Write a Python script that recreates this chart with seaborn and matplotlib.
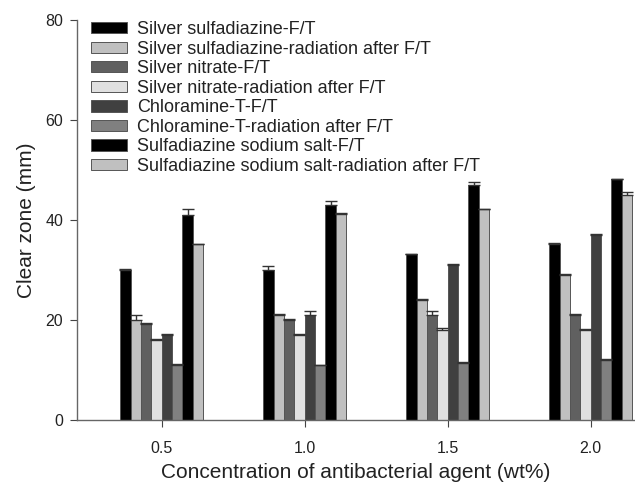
import matplotlib
matplotlib.use("Agg")
import matplotlib.pyplot as plt
import matplotlib.patches as mpatches
import numpy as np
import pandas as pd
import seaborn as sns

concentrations = [0.5, 1.0, 1.5, 2.0]
series = [
    "Silver sulfadiazine-F/T",
    "Silver sulfadiazine-radiation after F/T",
    "Silver nitrate-F/T",
    "Silver nitrate-radiation after F/T",
    "Chloramine-T-F/T",
    "Chloramine-T-radiation after F/T",
    "Sulfadiazine sodium salt-F/T",
    "Sulfadiazine sodium salt-radiation after F/T",
]
ss_ft = [30.0, 30.0, 33.1, 35.2]
ss_rad = [20.0, 21.0, 24.0, 29.1]
sn_ft = [19.2, 20.0, 21.0, 21.1]
sn_rad = [16.1, 17.1, 18.0, 18.0]
ct_ft = [17.0, 21.0, 31.1, 37.0]
ct_rad = [11.1, 11.0, 11.5, 12.1]
sss_ft = [41.0, 43.0, 47.0, 48.1]
sss_rad = [35.1, 41.2, 42.1, 45.0]

ss_ft_err = [0.2, 0.9, 0.1, 0.1]
ss_rad_err = [1.0, 0.2, 0.2, 0.2]
sn_ft_err = [0.3, 0.3, 0.8, 0.2]
sn_rad_err = [0.2, 0.1, 0.5, 0.3]
ct_ft_err = [0.3, 0.9, 0.2, 0.1]
ct_rad_err = [0.1, 0.1, 0.2, 0.2]
sss_ft_err = [1.2, 0.7, 0.6, 0.1]
sss_rad_err = [0.1, 0.1, 0.1, 0.6]

values = [ss_ft, ss_rad, sn_ft, sn_rad, ct_ft, ct_rad, sss_ft, sss_rad]
errors = [ss_ft_err, ss_rad_err, sn_ft_err, sn_rad_err, ct_ft_err, ct_rad_err, sss_ft_err, sss_rad_err]
colors = ["#000000", "#c0c0c0", "#606060", "#e0e0e0", "#404040", "#808080", "#000000", "#c0c0c0"]

rows = []
for s, vals in zip(series, values):
    for c, v in zip(concentrations, vals):
        rows.append({"conc": c, "series": s, "value": v})
df = pd.DataFrame(rows)

sns.set_style("ticks")
plt.rcParams["font.family"] = ["Liberation Sans", "DejaVu Sans"]

fig = plt.figure(figsize=(6.35, 4.86), dpi=100)
ax = fig.add_axes([77 / 635, 66 / 486, 1 - 77 / 635, 400 / 486])

sns.barplot(data=df, x="conc", y="value", hue="series", hue_order=series,
            palette=colors, native_scale=True, width=0.58, errorbar=None,
            edgecolor="#555555", linewidth=0.7, legend=False, ax=ax)

for cont, err in zip(ax.containers, errors):
    xs = [p.get_x() + p.get_width() / 2 for p in cont.patches]
    hs = [p.get_height() for p in cont.patches]
    ax.errorbar(xs, hs, yerr=[np.zeros(len(err)), err], fmt="none",
                ecolor="#333333", elinewidth=1.0, capsize=4.3, capthick=1.0, zorder=3)

ax.set_xlim(0.204, 2.155)
ax.set_ylim(0, 80)
ax.set_xticks(concentrations)
ax.set_xticklabels(["0.5", "1.0", "1.5", "2.0"])
ax.set_yticks([0, 20, 40, 60, 80])
ax.tick_params(axis="both", labelsize=11.5, colors="#444444", length=5, width=0.8,
               direction="out")
ax.tick_params(axis="x", pad=10)
ax.tick_params(axis="y", pad=5)
ax.tick_params(axis="both", labelcolor="#222222")
for side in ["top", "right"]:
    ax.spines[side].set_visible(False)
for side in ["left", "bottom"]:
    ax.spines[side].set_color("#666666")
    ax.spines[side].set_linewidth(1.0)

ax.set_xlabel("Concentration of antibacterial agent (wt%)", fontsize=15, color="#222222", labelpad=5.5)
ax.set_ylabel("Clear zone (mm)", fontsize=15, color="#222222", labelpad=7)

handles = [mpatches.Patch(facecolor=c, edgecolor="#555555", linewidth=0.7) for c in colors]
ax.legend(handles, series, loc="upper left", bbox_to_anchor=(14 / 558, 0.997), frameon=False,
          fontsize=13, handlelength=2.0, handleheight=0.58, handletextpad=0.56,
          labelspacing=0.14, borderaxespad=0.0, borderpad=0.0, labelcolor="#222222")

fig.savefig("out.png", dpi=100)
